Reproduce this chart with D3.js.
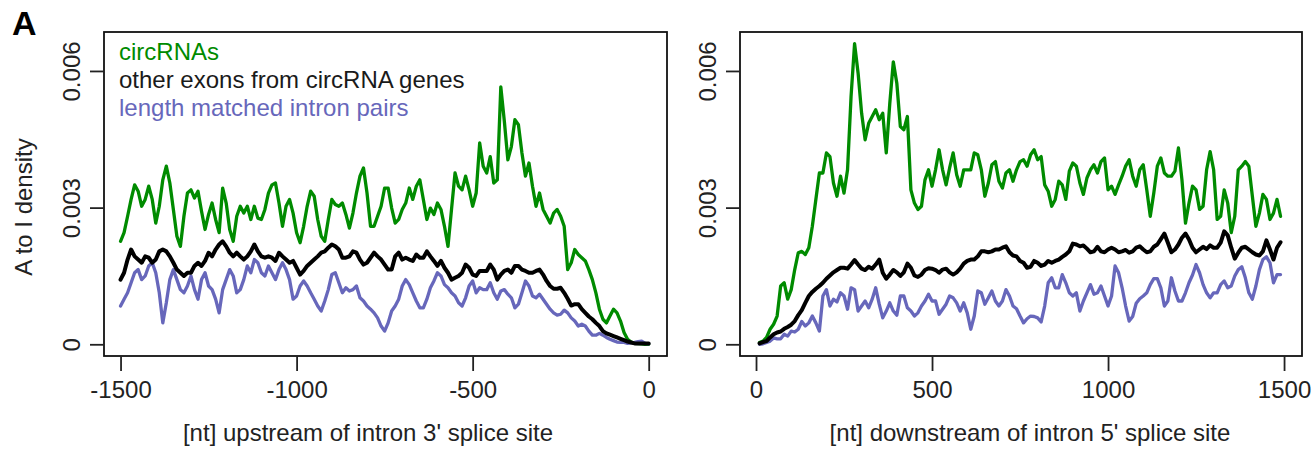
<!DOCTYPE html>
<html>
<head>
<meta charset="utf-8">
<script src="https://cdn.jsdelivr.net/npm/d3@7"></script>
<style>
  html, body { margin: 0; padding: 0; background: #fff; }
  svg { display: block; font-family: "Liberation Sans", Arial, Helvetica, sans-serif; }
</style>
</head>
<body>
<svg id="chart" width="1313" height="450"></svg>
<script>
// ---------- data (A-to-I density, in units of 1e-3) ----------
const ntUpstream = d3.range(-1500, 1, 10);      // -1500 .. 0
const ntDownstream = d3.range(10, 1491, 10);    // 10 .. 1490

const upCirc = [
  2.26, 2.45, 2.81, 3.18, 3.50, 3.36, 3.03, 3.18, 3.47, 3.18,
  2.66, 3.03, 3.61, 3.91, 3.54, 2.96, 2.37, 2.15, 2.81, 3.32,
  3.39, 3.21, 3.36, 2.92, 2.52, 2.85, 3.10, 2.74, 2.45, 3.43,
  3.10, 2.52, 2.26, 2.81, 3.03, 2.88, 3.03, 2.74, 3.03, 2.77,
  2.74, 2.96, 3.32, 3.50, 3.54, 3.10, 2.59, 3.03, 3.18,
  2.88, 2.45, 2.23, 2.59, 3.03, 3.36, 3.25, 2.74, 2.37, 2.26,
  2.74, 3.18, 3.07, 3.03, 3.10, 2.85, 2.55, 2.88, 3.32, 3.69,
  3.87, 3.32, 2.59, 2.59, 2.81, 3.03, 3.43, 3.43, 2.99, 2.66,
  2.74, 2.96, 3.10, 3.43, 3.18, 3.47, 3.61, 3.18, 2.74, 2.99,
  2.85, 3.10, 2.96, 2.59, 2.15, 2.96, 3.76, 3.47, 3.39, 3.69,
  3.39, 3.03,
  3.32, 4.42, 3.91, 3.76, 4.12, 3.54, 3.61, 5.65, 4.90, 4.05,
  4.34, 4.93, 4.82, 4.20, 3.69, 3.98, 3.47, 3.03, 3.32, 2.96,
  2.81, 2.66, 2.88, 2.96, 2.81, 2.59, 1.64, 1.79, 2.08, 1.97,
  1.90, 1.83, 1.64, 1.42, 1.13, 0.77, 0.55, 0.47, 0.62, 0.77,
  0.69, 0.51, 0.26, 0.11, 0.05, 0.02, 0.015, 0.01, 0, 0
];
const upOther = [
  1.42, 1.57, 1.86, 2.08, 1.93, 1.86, 1.79, 1.93, 1.90, 1.79,
  1.86, 2.04, 2.08, 2.04, 1.93, 1.79, 1.64, 1.57, 1.50, 1.57,
  1.57, 1.72, 1.79, 1.72, 1.83, 2.01, 1.93, 2.08, 2.19, 2.26,
  2.15, 2.01, 1.93, 2.01, 1.93, 1.86, 1.93, 2.04, 2.19, 2.04,
  1.93, 1.90, 1.93, 1.90, 1.83, 2.01, 1.93, 1.86, 1.79,
  1.83, 1.68, 1.53, 1.61, 1.72, 1.79, 1.86, 1.93, 2.01, 2.04,
  2.12, 2.19, 2.15, 2.08, 1.90, 1.90, 1.93, 2.04, 2.01, 1.86,
  1.75, 1.79, 1.90, 2.01, 1.93, 1.86, 1.75, 1.64, 1.64, 1.93,
  2.01, 1.86, 1.90, 1.86, 1.83, 1.97, 1.90, 1.90, 2.04, 1.93,
  1.83, 1.72, 1.83, 1.68, 1.57, 1.42, 1.46, 1.50, 1.57, 1.75,
  1.68, 1.53,
  1.50, 1.61, 1.61, 1.61, 1.75, 1.64, 1.42, 1.53, 1.61, 1.64,
  1.57, 1.72, 1.72, 1.64, 1.61, 1.57, 1.57, 1.61, 1.64, 1.53,
  1.39, 1.28, 1.22, 1.22, 1.24, 1.13, 1.00, 0.85, 0.88, 0.88,
  0.77, 0.69, 0.61, 0.55, 0.47, 0.40, 0.29, 0.24, 0.21, 0.18,
  0.15, 0.12, 0.09, 0.06, 0.04, 0.02, 0.015, 0.015, 0.015, 0.015
];
const upIntron = [
  0.84, 0.99, 1.13, 1.35, 1.57, 1.64, 1.42, 1.50, 1.72, 1.79,
  1.57, 1.13, 0.47, 0.91, 1.42, 1.64, 1.42, 1.20, 1.13, 1.28,
  1.50, 1.20, 0.99, 1.42, 1.57, 1.28, 1.20, 0.99, 0.69, 1.20,
  1.42, 1.64, 1.50, 1.13, 1.20, 1.42, 1.72, 1.57, 1.86, 1.79,
  1.57, 1.50, 1.72, 1.57, 1.42, 1.64, 1.79, 1.64, 1.42,
  0.99, 1.06, 1.28, 1.39, 1.28, 1.13, 0.99, 0.84, 0.73, 0.95,
  1.20, 1.53, 1.57, 1.35, 1.13, 1.24, 1.17, 1.20, 1.28, 1.02,
  0.95, 0.84, 0.77, 0.69, 0.58, 0.40, 0.29, 0.47, 0.73, 0.84,
  0.99, 1.28, 1.42, 1.31, 1.13, 0.95, 0.80, 0.80, 0.99, 1.24,
  1.39, 1.57, 1.50, 1.31, 1.24, 1.13, 1.06, 0.91, 0.84, 1.02,
  1.28, 1.39,
  1.13, 1.24, 1.20, 1.20, 1.35, 1.13, 0.99, 1.17, 1.20, 1.10,
  1.02, 0.80, 0.88, 1.13, 1.39, 1.28, 1.06, 1.02, 1.10, 0.99,
  0.88, 0.77, 0.69, 0.64, 0.66, 0.75, 0.69, 0.58, 0.51, 0.40,
  0.44, 0.40, 0.29, 0.20, 0.20, 0.24, 0.20, 0.15, 0.11, 0.08,
  0.05, 0.04, 0.04, 0.02, 0.03, 0.04, 0.06, 0.07, 0.02, 0.01
];

const downCirc = [
  0.04, 0.07, 0.15, 0.33, 0.44, 0.62, 1.28, 1.35, 0.99, 1.20,
  1.64, 2.01, 2.04, 1.97, 2.12, 2.59, 3.18, 3.76, 3.76, 4.20,
  4.12, 3.54, 3.25, 3.69, 3.32, 3.83, 5.44, 6.60, 5.95, 5.07,
  4.49, 4.85, 5.00, 5.15, 4.93, 5.07, 4.20, 5.29, 6.20, 5.73,
  4.78, 4.71, 5.00, 3.39, 3.10, 2.96, 3.03, 3.61, 3.83,
  3.47, 3.83, 4.27, 3.83, 3.50, 3.87, 4.20, 3.72, 3.47, 3.83,
  3.83, 3.83, 4.20, 4.16, 3.83, 3.25, 3.54, 3.94, 4.01, 3.58,
  3.43, 3.76, 3.83, 3.58, 3.83, 4.01, 4.05, 3.91, 4.16, 4.27,
  4.05, 4.12, 3.50, 3.36, 3.03, 3.18, 3.58, 3.50, 3.18, 3.80,
  3.98, 3.91, 3.54, 3.29, 3.65, 3.83, 3.94, 3.76, 4.01, 4.09,
  3.39,
  3.47, 3.29, 3.50, 3.69, 3.91, 4.05, 3.69, 3.47, 3.83, 3.94,
  3.39, 2.81, 3.32, 3.91, 4.09, 3.76, 3.69, 3.69, 3.80, 4.31,
  3.61, 2.66, 3.10, 3.47, 3.39, 2.96, 3.03, 3.83, 4.23, 3.83,
  2.74, 2.81, 3.39, 3.10, 2.45, 2.81, 3.83, 3.91, 4.01, 3.91,
  3.25, 2.59, 2.88, 3.29, 3.18, 2.74, 2.88, 3.18, 2.81
];
const downOther = [
  0.02, 0.05, 0.07, 0.15, 0.22, 0.26, 0.28, 0.34, 0.38, 0.43,
  0.51, 0.64, 0.75, 0.91, 1.06, 1.15, 1.22, 1.28, 1.35, 1.44,
  1.51, 1.58, 1.63, 1.68, 1.68, 1.66, 1.75, 1.85, 1.75, 1.66,
  1.63, 1.70, 1.66, 1.75, 1.86, 1.57, 1.44, 1.53, 1.63, 1.58,
  1.50, 1.58, 1.77, 1.68, 1.51, 1.48, 1.53, 1.63, 1.67,
  1.66, 1.63, 1.57, 1.64, 1.66, 1.58, 1.53, 1.58, 1.66, 1.77,
  1.83, 1.86, 1.86, 1.93, 2.04, 2.04, 2.02, 2.04, 2.08, 2.08,
  2.12, 2.15, 2.02, 1.95, 1.93, 1.83, 1.79, 1.68, 1.70, 1.83,
  1.79, 1.72, 1.75, 1.83, 1.79, 1.83, 1.86, 1.92, 1.97, 2.04,
  2.21, 2.19, 2.15, 2.17, 2.10, 2.02, 2.04, 2.14, 2.04, 2.02,
  2.08,
  2.12, 2.08, 2.02, 2.04, 2.07, 2.01, 2.04, 2.12, 2.15, 2.08,
  2.02, 2.04, 2.14, 2.19, 2.31, 2.43, 2.23, 2.02, 2.08, 2.19,
  2.34, 2.43, 2.30, 2.12, 2.02, 2.08, 2.14, 2.09, 2.17, 2.12,
  2.12, 2.23, 2.48, 2.39, 2.12, 1.88, 2.01, 2.12, 2.14, 2.08,
  2.02, 1.97, 1.95, 2.04, 2.28, 2.08, 1.86, 2.12, 2.24
];
const downIntron = [
  0.00, 0.01, 0.04, 0.07, 0.14, 0.12, 0.12, 0.22, 0.18, 0.29,
  0.27, 0.33, 0.50, 0.40, 0.47, 0.62, 0.47, 0.29, 1.06, 1.20,
  0.84, 0.99, 0.93, 1.13, 1.06, 0.77, 1.24, 1.20, 0.73, 0.84,
  0.95, 0.80, 0.99, 1.24, 0.88, 0.58, 0.73, 0.91, 0.73, 0.64,
  1.06, 1.06, 0.80, 0.73, 0.62, 0.69, 0.84, 0.95, 1.10,
  0.95, 0.95, 0.66, 0.77, 0.88, 1.06, 1.02, 0.91, 0.73, 0.91,
  0.69, 0.33, 0.62, 1.17, 1.13, 0.88, 1.02, 1.17, 0.95, 0.84,
  0.95, 1.20, 1.06, 0.84, 0.78, 0.62, 0.47, 0.56, 0.62, 0.61,
  0.58, 0.49, 0.84, 1.35, 1.46, 1.24, 1.24, 1.53, 1.35, 1.13,
  1.06, 1.13, 0.73, 0.95, 1.13, 1.31, 1.10, 1.13, 1.28, 1.06,
  0.84,
  1.06, 1.72, 1.57, 1.24, 0.84, 0.51, 0.61, 0.90, 1.00, 1.06,
  1.13, 1.31, 1.44, 1.44, 1.24, 0.84, 0.95, 1.46, 1.17, 0.95,
  0.95, 1.13, 1.35, 1.52, 1.75, 1.57, 1.31, 1.13, 1.02, 1.13,
  1.13, 1.31, 1.39, 1.24, 1.28, 1.50, 1.64, 1.70, 1.46, 1.13,
  0.99, 1.28, 1.64, 1.86, 1.92, 1.79, 1.35, 1.53, 1.53
];

const yTickValues = [0, 3, 6];
const yTickLabels = ["0", "0.003", "0.006"];
const xTicksUp = [-1500, -1000, -500, 0];
const xTicksDown = [0, 500, 1000, 1500];
const legendLabels = ["circRNAs", "other exons from circRNA genes", "length matched intron pairs"];
const panelLabel = "A";
const yAxisTitle = "A to I density";
const xTitleUp = "[nt] upstream of intron 3' splice site";
const xTitleDown = "[nt] downstream of intron 5' splice site";

// ---------- styling ----------
const COL_CIRC = "#008b00";
const COL_OTHER = "#000000";
const COL_INTRON = "#6767bb";
const TEXT = "#222";
const FONT = 24;

const svg = d3.select("#chart");
svg.append("rect").attr("width", 1313).attr("height", 450).attr("fill", "#fff");

const plotTop = 32, plotBottom = 356;
const yScale = d3.scaleLinear().domain([-0.257, 6.855]).range([plotBottom, plotTop]);

function panel(opts) {
  const x = d3.scaleLinear().domain(opts.domain).range([opts.x0, opts.x1]);
  const g = svg.append("g");

  const clipId = "clip" + opts.x0;
  svg.append("clipPath").attr("id", clipId)
    .append("rect").attr("x", opts.x0).attr("y", plotTop)
    .attr("width", opts.x1 - opts.x0).attr("height", plotBottom - plotTop);

  const line = d3.line().x((d, i) => x(opts.nt[i])).y(d => yScale(d));
  const lines = g.append("g").attr("clip-path", `url(#${clipId})`);
  [[opts.circ, COL_CIRC, 3.3], [opts.intron, COL_INTRON, 3.3], [opts.other, COL_OTHER, 4]].forEach(([data, col, w]) => {
    lines.append("path").datum(data)
      .attr("d", line)
      .attr("fill", "none")
      .attr("stroke", col)
      .attr("stroke-width", w)
      .attr("stroke-linejoin", "round")
      .attr("stroke-linecap", "round");
  });

  g.append("rect").attr("x", opts.x0).attr("y", plotTop)
    .attr("width", opts.x1 - opts.x0).attr("height", plotBottom - plotTop)
    .attr("fill", "none").attr("stroke", "#111").attr("stroke-width", 1.8);

  const xa = g.append("g").attr("transform", `translate(0,${plotBottom})`)
    .call(d3.axisBottom(x).tickValues(opts.xticks).tickSize(15).tickFormat(d => String(d)));
  xa.select(".domain").remove();
  xa.selectAll(".tick line").attr("stroke", "#222").attr("stroke-width", 1.8);
  xa.selectAll(".tick text").attr("y", 42).attr("dy", 0)
    .attr("font-size", FONT).attr("fill", TEXT)
    .attr("font-family", '"Liberation Sans", Arial, sans-serif');

  const ya = g.append("g").attr("transform", `translate(${opts.x0},0)`)
    .call(d3.axisLeft(yScale).tickValues(yTickValues).tickSize(14).tickFormat((d, i) => yTickLabels[i]));
  ya.select(".domain").remove();
  ya.selectAll(".tick line").attr("stroke", "#222").attr("stroke-width", 1.8);
  ya.selectAll(".tick text")
    .attr("transform", "rotate(-90)")
    .attr("x", 0).attr("y", -24).attr("dy", 0)
    .attr("text-anchor", "middle")
    .attr("font-size", FONT).attr("fill", TEXT)
    .attr("font-family", '"Liberation Sans", Arial, sans-serif');

  g.append("text").attr("x", opts.titleX).attr("y", 441)
    .attr("text-anchor", "middle").attr("font-size", FONT).attr("fill", TEXT)
    .text(opts.title);
}

panel({
  x0: 104, x1: 667, domain: [-1547, 52], nt: ntUpstream,
  circ: upCirc, other: upOther, intron: upIntron,
  xticks: xTicksUp, title: xTitleUp, titleX: 368
});
panel({
  x0: 740, x1: 1302, domain: [-45.5, 1551], nt: ntDownstream,
  circ: downCirc, other: downOther, intron: downIntron,
  xticks: xTicksDown, title: xTitleDown, titleX: 1030
});

svg.append("text")
  .attr("transform", "translate(32,207) rotate(-90)")
  .attr("text-anchor", "middle").attr("font-size", FONT).attr("fill", TEXT)
  .text(yAxisTitle);

const legendColors = [COL_CIRC, "#1a1a1a", COL_INTRON];
svg.append("g").selectAll("text").data(legendLabels).join("text")
  .attr("x", 119).attr("y", (d, i) => 60 + i * 28)
  .attr("font-size", FONT).attr("fill", (d, i) => legendColors[i])
  .text(d => d);

svg.append("text").attr("x", 12).attr("y", 35)
  .attr("font-size", 34).attr("font-weight", "bold").attr("fill", "#000")
  .text(panelLabel);
</script>
</body>
</html>
